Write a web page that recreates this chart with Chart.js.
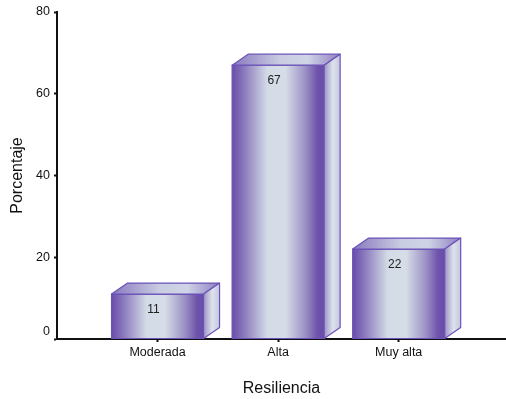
<!DOCTYPE html>
<html>
<head>
<meta charset="utf-8">
<script src="https://cdn.jsdelivr.net/npm/chart.js@4"></script>
<style>
  html, body { margin: 0; padding: 0; background: #fff; }
  #wrap { width: 506px; height: 399px; }
</style>
</head>
<body>
<div id="wrap"><canvas id="barChart"></canvas></div>
<script>
const categories = ['Moderada', 'Alta', 'Muy alta'];
const porcentajes = [11, 67, 22];
const yTicks = [0, 20, 40, 60, 80];

const FONT = "'Liberation Sans', Arial, sans-serif";

// 3D box drawn on top of each (transparent) bar element
const boxBars = {
  id: 'boxBars',
  afterDatasetsDraw(chart) {
    const ctx = chart.ctx;
    const meta = chart.getDatasetMeta(0);
    const dx = 16, dy = 11;
    meta.data.forEach((bar, i) => {
      const p = bar.getProps(['x', 'y', 'base', 'width'], true);
      const l = p.x - p.width / 2, r = p.x + p.width / 2;
      const t = p.y, b = p.base;
      ctx.save();
      ctx.lineWidth = 1.2;
      ctx.strokeStyle = '#6b52b8';
      ctx.lineJoin = 'round';

      // front
      let g = ctx.createLinearGradient(l, 0, r, 0);
      g.addColorStop(0, '#6a4da8');
      g.addColorStop(0.12, '#8876bb');
      g.addColorStop(0.38, '#d3dbe6');
      g.addColorStop(0.58, '#d6dde7');
      g.addColorStop(0.8, '#9a8fc4');
      g.addColorStop(0.93, '#6e52ab');
      g.addColorStop(1, '#6a4da8');
      ctx.fillStyle = g;
      ctx.fillRect(l, t, r - l, b - t);
      ctx.strokeRect(l, t, r - l, b - t);

      // top
      g = ctx.createLinearGradient(l, 0, r + dx, 0);
      g.addColorStop(0, '#8a78c0');
      g.addColorStop(0.45, '#c9cde2');
      g.addColorStop(0.7, '#cfd4e6');
      g.addColorStop(1, '#8e7ec2');
      ctx.fillStyle = g;
      ctx.beginPath();
      ctx.moveTo(l, t);
      ctx.lineTo(l + dx, t - dy);
      ctx.lineTo(r + dx, t - dy);
      ctx.lineTo(r, t);
      ctx.closePath();
      ctx.fill();
      ctx.stroke();

      // side
      g = ctx.createLinearGradient(r, 0, r + dx, 0);
      g.addColorStop(0, '#9d92c6');
      g.addColorStop(0.55, '#dde3ec');
      g.addColorStop(1, '#c4c6e0');
      ctx.fillStyle = g;
      ctx.beginPath();
      ctx.moveTo(r, t);
      ctx.lineTo(r + dx, t - dy);
      ctx.lineTo(r + dx, b - dy);
      ctx.lineTo(r, b);
      ctx.closePath();
      ctx.fill();
      ctx.stroke();

      // value label
      ctx.fillStyle = '#222';
      ctx.font = '12px ' + FONT;
      ctx.textAlign = 'center';
      ctx.textBaseline = 'middle';
      ctx.fillText(String(porcentajes[i]), p.x - 4, t + 16);
      ctx.restore();
    });
  }
};

new Chart(document.getElementById('barChart'), {
  type: 'bar',
  data: {
    datasets: [{
      data: porcentajes.map((v, i) => ({ x: i + 1, y: v })),
      backgroundColor: 'rgba(0,0,0,0)',
      borderWidth: 0,
      barThickness: 92
    }]
  },
  options: {
    responsive: true,
    maintainAspectRatio: false,
    animation: false,
    layout: { padding: { top: 12, right: 0, bottom: 0, left: 0 } },
    plugins: {
      legend: { display: false },
      tooltip: { enabled: false }
    },
    scales: {
      x: {
        type: 'linear',
        offset: false,
        min: 0.166,
        max: 3.89,
        afterBuildTicks: function(scale) {
          scale.ticks = categories.map((c, i) => ({ value: i + 1 }));
        },
        afterFit: function(scale) { scale.height = 60; },
        ticks: {
          color: '#111',
          padding: 3,
          maxRotation: 0,
          font: { family: FONT, size: 12.5 },
          callback: function(value) { return categories[value - 1]; }
        },
        grid: {
          display: true,
          offset: false,
          drawOnChartArea: false,
          drawTicks: true,
          tickLength: 3,
          tickWidth: 2,
          tickColor: '#111'
        },
        border: { display: true, color: '#111', width: 2 },
        title: {
          display: true,
          text: 'Resiliencia',
          color: '#111',
          font: { family: FONT, size: 16 },
          padding: { top: 0, bottom: 1 }
        }
      },
      y: {
        min: 0,
        max: 80,
        afterBuildTicks: function(scale) {
          scale.ticks = yTicks.map(v => ({ value: v }));
        },
        afterFit: function(scale) { scale.width = 57; },
        ticks: {
          color: '#111',
          padding: 4,
          font: { family: FONT, size: 12.5 },
          // lift the zero label clear of the x axis line
          callback: function(value) { return value === 0 ? ['0', ''] : value; }
        },
        grid: {
          display: true,
          drawOnChartArea: false,
          drawTicks: true,
          tickLength: 3,
          tickWidth: 2,
          tickColor: '#111'
        },
        border: { display: true, color: '#111', width: 2 },
        title: {
          display: true,
          text: 'Porcentaje',
          color: '#111',
          font: { family: FONT, size: 16 },
          padding: { top: 8, bottom: 0 }
        }
      }
    }
  },
  plugins: [boxBars]
});
</script>
</body>
</html>
